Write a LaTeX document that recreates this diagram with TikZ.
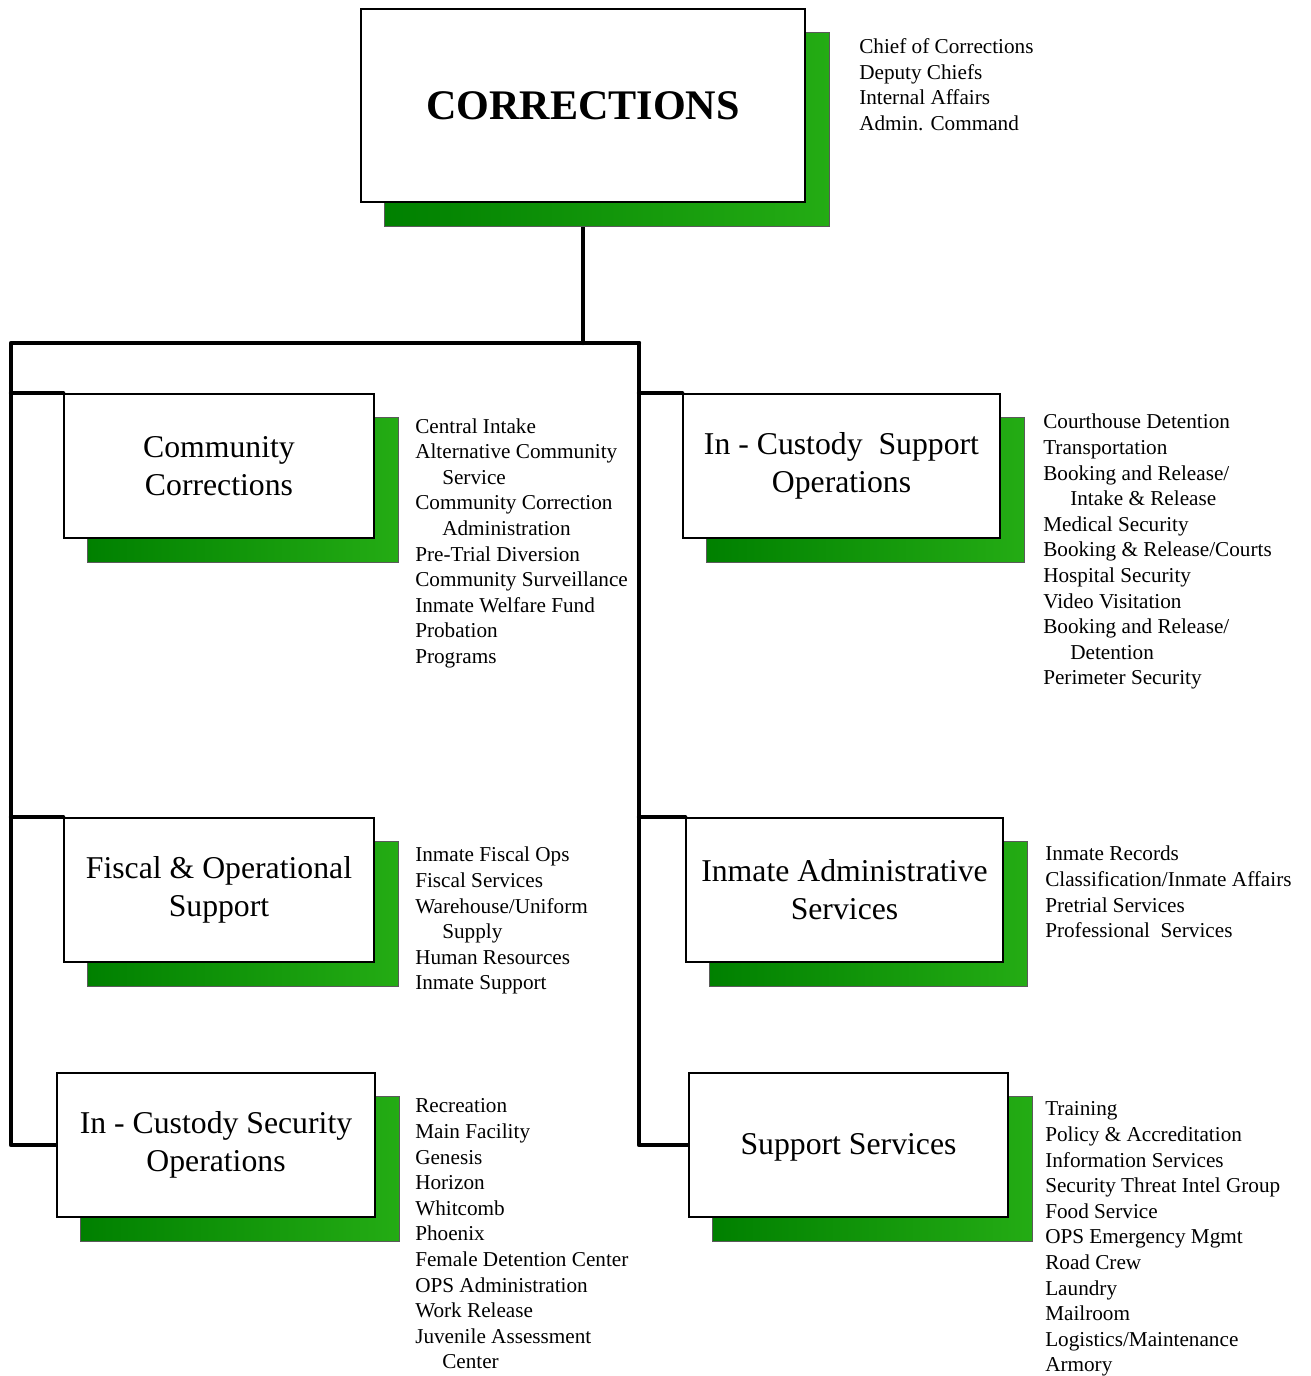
\documentclass[tikz,border=0pt]{standalone}
\usepackage{fontspec}
\setmainfont{Liberation Serif}
\usetikzlibrary{calc}
\pgfdeclarelayer{background}
\pgfsetlayers{background,main}
\definecolor{shadeL}{RGB}{0,128,0}
\definecolor{shadeR}{RGB}{36,172,20}
\definecolor{shadeEdge}{RGB}{90,90,90}
\begin{document}
\begin{tikzpicture}[x=0.75pt,y=-0.75pt,
  unitbox/.style={draw=black, fill=white, line width=1.2pt, inner sep=0pt, align=center,
    font=\fontsize{23.8}{28.5}\selectfont},
  conn/.style={line width=3.2pt, line cap=round, line join=round},
  listtext/.style={anchor=north west, inner sep=0pt, align=left,
    font=\fontsize{15.9}{19.2}\selectfont},
  shadowbox/.style={left color=shadeL, right color=shadeR, draw=shadeEdge, line width=0.8pt}]
\useasboundingbox (0,0) rectangle (1310,1376);

% boxes
\node[unitbox, minimum width=333pt, minimum height=144.75pt,
  font=\fontsize{31.6}{36}\selectfont\bfseries] (top) at (583,105.5) {CORRECTIONS};
\node[unitbox, minimum width=232.5pt, minimum height=108pt] (cc) at (219,466) {Community\\Corrections};
\node[unitbox, minimum width=237.75pt, minimum height=108pt] (icso) at (841.5,466) {In - Custody\ \ Support\\Operations};
\node[unitbox, minimum width=232.5pt, minimum height=108pt] (fos) at (219,890) {Fiscal \& Operational\\Support};
\node[unitbox, minimum width=237.75pt, minimum height=108pt] (ias) at (844.5,890) {Inmate Administrative\\Services};
\node[unitbox, minimum width=238.5pt, minimum height=108pt] (ics) at (216,1145) {In - Custody Security\\Operations};
\node[unitbox, minimum width=239.25pt, minimum height=108pt, text depth=2pt] (ss) at (848.5,1145) {Support Services};

% lists
\node[listtext] (ltop) at (859,38) {\rule{0pt}{11.5pt}Chief of Corrections\\Deputy Chiefs\\Internal Affairs\\Admin. Command};
\node[listtext] (lcc) at (415,417.5) {\rule{0pt}{11.5pt}Central Intake\\Alternative Community\\\hspace*{20.25pt}Service\\Community Correction\\\hspace*{20.25pt}Administration\\Pre-Trial Diversion\\Community Surveillance\\Inmate Welfare Fund\\Probation\\Programs};
\node[listtext] (licso) at (1043,413.3) {\rule{0pt}{11.5pt}Courthouse Detention\\Transportation\\Booking and Release/\\\hspace*{20.25pt}Intake \& Release\\Medical Security\\Booking \& Release/Courts\\Hospital Security\\Video Visitation\\Booking and Release/\\\hspace*{20.25pt}Detention\\Perimeter Security};
\node[listtext] (lfos) at (415,846.3) {\rule{0pt}{11.5pt}Inmate Fiscal Ops\\Fiscal Services\\Warehouse/Uniform\\\hspace*{20.25pt}Supply\\Human Resources\\Inmate Support};
\node[listtext] (lias) at (1045,845.3) {\rule{0pt}{11.5pt}Inmate Records\\Classification/Inmate Affairs\\Pretrial Services\\Professional\ \ Services};
\node[listtext] (lics) at (415,1097.3) {\rule{0pt}{11.5pt}Recreation\\Main Facility\\Genesis\\Horizon\\Whitcomb\\Phoenix\\Female Detention Center\\OPS Administration\\Work Release\\Juvenile Assessment\\\hspace*{20.25pt}Center};
\node[listtext] (lss) at (1045,1100.3) {\rule{0pt}{11.5pt}Training\\Policy \& Accreditation\\Information Services\\Security Threat Intel Group\\Food Service\\OPS Emergency Mgmt\\Road Crew\\Laundry\\Mailroom\\Logistics/Maintenance\\Armory};

\begin{pgfonlayer}{background}
  \coordinate (busC) at (583,343);
  \coordinate (busL) at (11,343);
  \coordinate (busR) at (639,343);
  \draw[conn] (top.south) -- (busC);
  \draw[conn] (busR) -- (busL) |- (ics.west);
  \draw[conn] (busC) -- (busR) |- (ss.west);
  \draw[conn] (busL |- cc.north west) -- (cc.north west);
  \draw[conn] (busL |- fos.north west) -- (fos.north west);
  \draw[conn] (busR |- icso.north west) -- (icso.north west);
  \draw[conn] (busR |- ias.north west) -- (ias.north west);
  \foreach \n in {top,cc,icso,fos,ias,ics,ss}
    \shade[shadowbox] ($(\n.south west)+(24,24)$) rectangle ($(\n.north east)+(24,24)$);
\end{pgfonlayer}
\end{tikzpicture}
\end{document}
